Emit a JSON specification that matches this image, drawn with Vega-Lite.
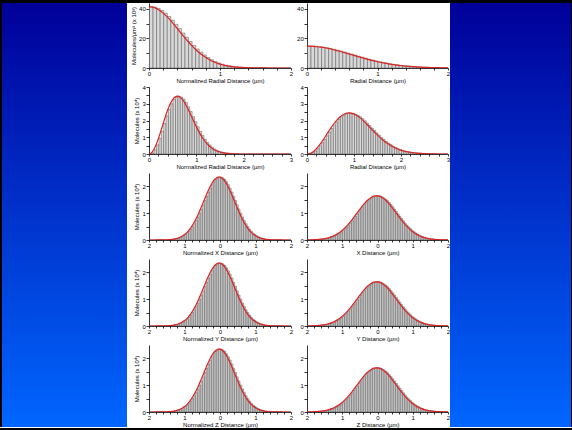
{
 "$schema": "https://vega.github.io/schema/vega-lite/v6.json",
 "background": "white",
 "padding": 0,
 "spacing": 0,
 "config": {
  "view": {"stroke": null},
  "font": "Liberation Sans",
  "axis": {"domainColor": "#000", "tickColor": "#000", "labelColor": "#000", "titleColor": "#000", "labelFontSize": 6, "titleFontSize": 6, "titleFontWeight": "normal", "grid": false, "domainWidth": 0.8, "tickWidth": 0.8, "labelFlush": false, "labelOverlap": false, "labelBound": false},
  "axisX": {"tickSize": 2, "labelPadding": 0, "titlePadding": 1.5},
  "axisY": {"tickSize": 3, "labelPadding": 0.7, "titlePadding": 2}
 },
 "datasets": {
  "d1": [
   {"x":0,"l":41.5,"r":14.8},{"x":0.05,"l":41.21,"r":14.75},{"x":0.1,"l":40.37,"r":14.62},{"x":0.15,"l":38.99,"r":14.39},
   {"x":0.2,"l":37.15,"r":14.08},{"x":0.25,"l":34.9,"r":13.69},{"x":0.3,"l":32.35,"r":13.23},{"x":0.35,"l":29.56,"r":12.7},
   {"x":0.4,"l":26.64,"r":12.12},{"x":0.45,"l":23.68,"r":11.49},{"x":0.5,"l":20.76,"r":10.83},{"x":0.55,"l":17.95,"r":10.14},
   {"x":0.6,"l":15.31,"r":9.44},{"x":0.65,"l":12.87,"r":8.73},{"x":0.7,"l":10.68,"r":8.02},{"x":0.75,"l":8.74,"r":7.33},
   {"x":0.8,"l":7.05,"r":6.65},{"x":0.85,"l":5.61,"r":6.0},{"x":0.9,"l":4.4,"r":5.38},{"x":0.95,"l":3.41,"r":4.79},
   {"x":1,"l":2.6,"r":4.24},{"x":1.05,"l":1.96,"r":3.73},{"x":1.1,"l":1.45,"r":3.26},{"x":1.15,"l":1.06,"r":2.83},
   {"x":1.2,"l":0.77,"r":2.45},{"x":1.25,"l":0.55,"r":2.1},{"x":1.3,"l":0.38,"r":1.79},{"x":1.35,"l":0.27,"r":1.52},
   {"x":1.4,"l":0.18,"r":1.28},{"x":1.45,"l":0.12,"r":1.07},{"x":1.5,"l":0.08,"r":0.89},{"x":1.55,"l":0.05,"r":0.73},
   {"x":1.6,"l":0.03,"r":0.6},{"x":1.65,"l":0.02,"r":0.49},{"x":1.7,"l":0.01,"r":0.4},{"x":1.75,"l":0.01,"r":0.32},
   {"x":1.8,"l":0,"r":0.26},{"x":1.85,"l":0,"r":0.21},{"x":1.9,"l":0,"r":0.16},{"x":1.95,"l":0,"r":0.13},{"x":2,"l":0,"r":0.1}
  ],
  "d2": [
   {"x":0,"l":0,"r":0},{"x":0.05,"l":0.06,"r":0.02},{"x":0.1,"l":0.25,"r":0.08},{"x":0.15,"l":0.55,"r":0.18},
   {"x":0.2,"l":0.93,"r":0.32},{"x":0.25,"l":1.37,"r":0.48},{"x":0.3,"l":1.82,"r":0.67},{"x":0.35,"l":2.27,"r":0.87},
   {"x":0.4,"l":2.67,"r":1.09},{"x":0.45,"l":3.0,"r":1.31},{"x":0.5,"l":3.25,"r":1.52},{"x":0.55,"l":3.4,"r":1.73},
   {"x":0.6,"l":3.45,"r":1.91},{"x":0.65,"l":3.4,"r":2.07},{"x":0.7,"l":3.28,"r":2.21},{"x":0.75,"l":3.08,"r":2.32},
   {"x":0.8,"l":2.82,"r":2.39},{"x":0.85,"l":2.54,"r":2.44},{"x":0.9,"l":2.23,"r":2.45},{"x":0.95,"l":1.93,"r":2.43},
   {"x":1,"l":1.63,"r":2.38},{"x":1.05,"l":1.35,"r":2.31},{"x":1.1,"l":1.1,"r":2.22},{"x":1.15,"l":0.88,"r":2.11},
   {"x":1.2,"l":0.69,"r":1.98},{"x":1.25,"l":0.54,"r":1.84},{"x":1.3,"l":0.41,"r":1.7},{"x":1.35,"l":0.3,"r":1.55},
   {"x":1.4,"l":0.22,"r":1.41},{"x":1.45,"l":0.16,"r":1.26},{"x":1.5,"l":0.12,"r":1.13},{"x":1.55,"l":0.08,"r":0.99},
   {"x":1.6,"l":0.06,"r":0.87},{"x":1.65,"l":0.04,"r":0.75},{"x":1.7,"l":0.03,"r":0.65},{"x":1.75,"l":0.02,"r":0.56},
   {"x":1.8,"l":0.01,"r":0.47},{"x":1.85,"l":0.01,"r":0.4},{"x":1.9,"l":0,"r":0.33},{"x":1.95,"l":0,"r":0.27},
   {"x":2,"l":0,"r":0.22},{"x":2.05,"l":0,"r":0.18},{"x":2.1,"l":0,"r":0.15},{"x":2.15,"l":0,"r":0.12},
   {"x":2.2,"l":0,"r":0.1},{"x":2.25,"l":0,"r":0.08},{"x":2.3,"l":0,"r":0.06},{"x":2.35,"l":0,"r":0.05},
   {"x":2.4,"l":0,"r":0.04},{"x":2.45,"l":0,"r":0.03},{"x":2.5,"l":0,"r":0.02},{"x":2.55,"l":0,"r":0.02},
   {"x":2.6,"l":0,"r":0.01},{"x":2.65,"l":0,"r":0.01},{"x":2.7,"l":0,"r":0.01},{"x":2.75,"l":0,"r":0},
   {"x":2.8,"l":0,"r":0},{"x":2.85,"l":0,"r":0},{"x":2.9,"l":0,"r":0},{"x":2.95,"l":0,"r":0},{"x":3,"l":0,"r":0}
  ],
  "d3": [
   {"x":-2,"l":0,"r":0.003},{"x":-1.95,"l":0,"r":0.004},{"x":-1.9,"l":0,"r":0.006},{"x":-1.85,"l":0,"r":0.008},
   {"x":-1.8,"l":0.001,"r":0.011},{"x":-1.75,"l":0.001,"r":0.014},{"x":-1.7,"l":0.002,"r":0.019},{"x":-1.65,"l":0.003,"r":0.024},
   {"x":-1.6,"l":0.004,"r":0.032},{"x":-1.55,"l":0.006,"r":0.04},{"x":-1.5,"l":0.009,"r":0.051},{"x":-1.45,"l":0.012,"r":0.065},
   {"x":-1.4,"l":0.018,"r":0.081},{"x":-1.35,"l":0.025,"r":0.1},{"x":-1.3,"l":0.035,"r":0.124},{"x":-1.25,"l":0.049,"r":0.151},
   {"x":-1.2,"l":0.066,"r":0.183},{"x":-1.15,"l":0.089,"r":0.219},{"x":-1.1,"l":0.119,"r":0.261},{"x":-1.05,"l":0.156,"r":0.309},
   {"x":-1,"l":0.202,"r":0.362},{"x":-0.95,"l":0.258,"r":0.422},{"x":-0.9,"l":0.325,"r":0.487},{"x":-0.85,"l":0.405,"r":0.557},
   {"x":-0.8,"l":0.498,"r":0.633},{"x":-0.75,"l":0.605,"r":0.714},{"x":-0.7,"l":0.724,"r":0.798},{"x":-0.65,"l":0.857,"r":0.885},
   {"x":-0.6,"l":1.001,"r":0.974},{"x":-0.55,"l":1.153,"r":1.063},{"x":-0.5,"l":1.312,"r":1.151},{"x":-0.45,"l":1.474,"r":1.237},
   {"x":-0.4,"l":1.634,"r":1.319},{"x":-0.35,"l":1.789,"r":1.394},{"x":-0.3,"l":1.933,"r":1.463},{"x":-0.25,"l":2.062,"r":1.522},
   {"x":-0.2,"l":2.171,"r":1.571},{"x":-0.15,"l":2.257,"r":1.609},{"x":-0.1,"l":2.316,"r":1.635},{"x":-0.05,"l":2.346,"r":1.648},
   {"x":0,"l":2.346,"r":1.648},{"x":0.05,"l":2.316,"r":1.635},{"x":0.1,"l":2.257,"r":1.609},{"x":0.15,"l":2.171,"r":1.571},
   {"x":0.2,"l":2.062,"r":1.522},{"x":0.25,"l":1.933,"r":1.463},{"x":0.3,"l":1.789,"r":1.394},{"x":0.35,"l":1.634,"r":1.319},
   {"x":0.4,"l":1.474,"r":1.237},{"x":0.45,"l":1.312,"r":1.151},{"x":0.5,"l":1.153,"r":1.063},{"x":0.55,"l":1.001,"r":0.974},
   {"x":0.6,"l":0.857,"r":0.885},{"x":0.65,"l":0.724,"r":0.798},{"x":0.7,"l":0.605,"r":0.714},{"x":0.75,"l":0.498,"r":0.633},
   {"x":0.8,"l":0.405,"r":0.557},{"x":0.85,"l":0.325,"r":0.487},{"x":0.9,"l":0.258,"r":0.422},{"x":0.95,"l":0.202,"r":0.362},
   {"x":1,"l":0.156,"r":0.309},{"x":1.05,"l":0.119,"r":0.261},{"x":1.1,"l":0.089,"r":0.219},{"x":1.15,"l":0.066,"r":0.183},
   {"x":1.2,"l":0.049,"r":0.151},{"x":1.25,"l":0.035,"r":0.124},{"x":1.3,"l":0.025,"r":0.1},{"x":1.35,"l":0.018,"r":0.081},
   {"x":1.4,"l":0.012,"r":0.065},{"x":1.45,"l":0.009,"r":0.051},{"x":1.5,"l":0.006,"r":0.04},{"x":1.55,"l":0.004,"r":0.032},
   {"x":1.6,"l":0.003,"r":0.024},{"x":1.65,"l":0.002,"r":0.019},{"x":1.7,"l":0.001,"r":0.014},{"x":1.75,"l":0.001,"r":0.011},
   {"x":1.8,"l":0,"r":0.008},{"x":1.85,"l":0,"r":0.006},{"x":1.9,"l":0,"r":0.004},{"x":1.95,"l":0,"r":0.003},{"x":2,"l":0,"r":0.002}
  ]
 },
 "vconcat": [
  {"width": 572, "height": 3, "data": {"values": [{}]}, "mark": {"type": "rect", "color": "black"}, "encoding": {}},
  {"spacing": 0, "hconcat": [
   {"width": 2, "height": 424, "data": {"values": [{}]}, "mark": {"type": "rect", "color": "black"}, "encoding": {}},
   {"width": 125, "height": 424, "data": {"values": [{}]}, "mark": {"type": "rect", "color": {"gradient": "linear", "x1": 0, "y1": 0, "x2": 0, "y2": 1, "stops": [{"offset": 0, "color": "#000099"}, {"offset": 1, "color": "#0066ff"}]}}, "encoding": {}},
   {"width": 3, "height": 424, "data": {"values": [{}]}, "mark": {"type": "rect", "color": "white"}, "encoding": {}},
   {"columns": 2, "spacing": {"row": 19, "column": 16}, "bounds": "flush", "align": "each", "concat": [
    {"width": 142, "height": 65, "data": {"name": "d1"},
     "encoding": {"y": {"field": "l", "type": "quantitative", "scale": {"domain": [0, 44], "nice": false}, "axis": {"title": "Molecules/µm³ (x 10³)", "values": [0,10,20,30,40], "labelExpr": "datum.value % 20 == 0 ? format(datum.value, 'd') : ''", "labelOverlap": false}}},
     "layer": [
      {"mark": {"type": "bar", "fill": "#d9d9d9", "stroke": "#555555", "strokeWidth": 0.5, "binSpacing": 0, "clip": true},
       "encoding": {"x": {"field": "x", "type": "quantitative", "bin": {"binned": true, "step": 0.05}, "scale": {"domain": [0, 2], "nice": false, "zero": false},
             "axis": {"title": "Normalized Radial Distance (µm)", "labelOverlap": false, "values": [0,0.2,0.4,0.6,0.8,1,1.2,1.4,1.6,1.8,2], "labelExpr": "abs(datum.value - round(datum.value)) < 0.01 ? format(abs(datum.value), 'd') : ''"}}}},
      {"mark": {"type": "line", "stroke": "#dd2222", "strokeWidth": 1.2, "interpolate": "monotone", "clip": true},
       "encoding": {"x": {"field": "x", "type": "quantitative"}}}
     ]},
    {"width": 141, "height": 65, "data": {"name": "d1"},
     "encoding": {"y": {"field": "r", "type": "quantitative", "scale": {"domain": [0, 44], "nice": false}, "axis": {"title": null, "values": [0,10,20,30,40], "labelExpr": "datum.value % 20 == 0 ? format(datum.value, 'd') : ''", "labelOverlap": false}}},
     "layer": [
      {"mark": {"type": "bar", "fill": "#d9d9d9", "stroke": "#555555", "strokeWidth": 0.5, "binSpacing": 0, "clip": true},
       "encoding": {"x": {"field": "x", "type": "quantitative", "bin": {"binned": true, "step": 0.05}, "scale": {"domain": [0, 2], "nice": false, "zero": false},
             "axis": {"title": "Radial Distance (µm)", "labelOverlap": false, "values": [0,0.2,0.4,0.6,0.8,1,1.2,1.4,1.6,1.8,2], "labelExpr": "abs(datum.value - round(datum.value)) < 0.01 ? format(abs(datum.value), 'd') : ''"}}}},
      {"mark": {"type": "line", "stroke": "#dd2222", "strokeWidth": 1.2, "interpolate": "monotone", "clip": true},
       "encoding": {"x": {"field": "x", "type": "quantitative"}}}
     ]},
    {"width": 142, "height": 67, "data": {"name": "d2"},
     "encoding": {"y": {"field": "l", "type": "quantitative", "scale": {"domain": [0, 4], "nice": false}, "axis": {"title": "Molecules (x 10⁴)", "values": [0,0.5,1,1.5,2,2.5,3,3.5,4], "labelExpr": "abs(datum.value - round(datum.value)) < 0.01 ? format(datum.value, 'd') : ''", "labelOverlap": false}}},
     "layer": [
      {"mark": {"type": "bar", "fill": "#d9d9d9", "stroke": "#555555", "strokeWidth": 0.5, "binSpacing": 0, "clip": true},
       "encoding": {"x": {"field": "x", "type": "quantitative", "bin": {"binned": true, "step": 0.05}, "scale": {"domain": [0, 3], "nice": false, "zero": false},
             "axis": {"title": "Normalized Radial Distance (µm)", "labelOverlap": false, "values": [0,0.2,0.4,0.6,0.8,1,1.2,1.4,1.6,1.8,2,2.2,2.4,2.6,2.8,3], "labelExpr": "abs(datum.value - round(datum.value)) < 0.01 ? format(abs(datum.value), 'd') : ''"}}}},
      {"mark": {"type": "line", "stroke": "#dd2222", "strokeWidth": 1.2, "interpolate": "monotone", "clip": true},
       "encoding": {"x": {"field": "x", "type": "quantitative"}}}
     ]},
    {"width": 141, "height": 67, "data": {"name": "d2"},
     "encoding": {"y": {"field": "r", "type": "quantitative", "scale": {"domain": [0, 4], "nice": false}, "axis": {"title": null, "values": [0,0.5,1,1.5,2,2.5,3,3.5,4], "labelExpr": "abs(datum.value - round(datum.value)) < 0.01 ? format(datum.value, 'd') : ''", "labelOverlap": false}}},
     "layer": [
      {"mark": {"type": "bar", "fill": "#d9d9d9", "stroke": "#555555", "strokeWidth": 0.5, "binSpacing": 0, "clip": true},
       "encoding": {"x": {"field": "x", "type": "quantitative", "bin": {"binned": true, "step": 0.05}, "scale": {"domain": [0, 3], "nice": false, "zero": false},
             "axis": {"title": "Radial Distance (µm)", "labelOverlap": false, "values": [0,0.2,0.4,0.6,0.8,1,1.2,1.4,1.6,1.8,2,2.2,2.4,2.6,2.8,3], "labelExpr": "abs(datum.value - round(datum.value)) < 0.01 ? format(abs(datum.value), 'd') : ''"}}}},
      {"mark": {"type": "line", "stroke": "#dd2222", "strokeWidth": 1.2, "interpolate": "monotone", "clip": true},
       "encoding": {"x": {"field": "x", "type": "quantitative"}}}
     ]},
    {"width": 142, "height": 67, "data": {"name": "d3"},
     "encoding": {"y": {"field": "l", "type": "quantitative", "scale": {"domain": [0, 2.5], "nice": false}, "axis": {"title": "Molecules (x 10⁴)", "values": [0,0.5,1,1.5,2], "labelExpr": "abs(datum.value - round(datum.value)) < 0.01 ? format(datum.value, 'd') : ''", "labelOverlap": false}}},
     "layer": [
      {"mark": {"type": "bar", "fill": "#d9d9d9", "stroke": "#555555", "strokeWidth": 0.5, "binSpacing": 0, "clip": true},
       "encoding": {"x": {"field": "x", "type": "quantitative", "bin": {"binned": true, "step": 0.05}, "scale": {"domain": [-2, 2], "nice": false, "zero": false},
             "axis": {"title": "Normalized X Distance (µm)", "labelOverlap": false, "values": [-2,-1.8,-1.6,-1.4,-1.2,-1,-0.8,-0.6,-0.4,-0.2,0,0.2,0.4,0.6,0.8,1,1.2,1.4,1.6,1.8,2], "labelExpr": "abs(datum.value - round(datum.value)) < 0.01 ? format(abs(datum.value), 'd') : ''"}}}},
      {"mark": {"type": "line", "stroke": "#dd2222", "strokeWidth": 1.2, "interpolate": "monotone", "clip": true},
       "encoding": {"x": {"field": "x", "type": "quantitative"}}}
     ]},
    {"width": 141, "height": 67, "data": {"name": "d3"},
     "encoding": {"y": {"field": "r", "type": "quantitative", "scale": {"domain": [0, 2.5], "nice": false}, "axis": {"title": null, "values": [0,0.5,1,1.5,2], "labelExpr": "abs(datum.value - round(datum.value)) < 0.01 ? format(datum.value, 'd') : ''", "labelOverlap": false}}},
     "layer": [
      {"mark": {"type": "bar", "fill": "#d9d9d9", "stroke": "#555555", "strokeWidth": 0.5, "binSpacing": 0, "clip": true},
       "encoding": {"x": {"field": "x", "type": "quantitative", "bin": {"binned": true, "step": 0.05}, "scale": {"domain": [-2, 2], "nice": false, "zero": false},
             "axis": {"title": "X Distance (µm)", "labelOverlap": false, "values": [-2,-1.8,-1.6,-1.4,-1.2,-1,-0.8,-0.6,-0.4,-0.2,0,0.2,0.4,0.6,0.8,1,1.2,1.4,1.6,1.8,2], "labelExpr": "abs(datum.value - round(datum.value)) < 0.01 ? format(abs(datum.value), 'd') : ''"}}}},
      {"mark": {"type": "line", "stroke": "#dd2222", "strokeWidth": 1.2, "interpolate": "monotone", "clip": true},
       "encoding": {"x": {"field": "x", "type": "quantitative"}}}
     ]},
    {"width": 142, "height": 67, "data": {"name": "d3"},
     "encoding": {"y": {"field": "l", "type": "quantitative", "scale": {"domain": [0, 2.5], "nice": false}, "axis": {"title": "Molecules (x 10⁴)", "values": [0,0.5,1,1.5,2], "labelExpr": "abs(datum.value - round(datum.value)) < 0.01 ? format(datum.value, 'd') : ''", "labelOverlap": false}}},
     "layer": [
      {"mark": {"type": "bar", "fill": "#d9d9d9", "stroke": "#555555", "strokeWidth": 0.5, "binSpacing": 0, "clip": true},
       "encoding": {"x": {"field": "x", "type": "quantitative", "bin": {"binned": true, "step": 0.05}, "scale": {"domain": [-2, 2], "nice": false, "zero": false},
             "axis": {"title": "Normalized Y Distance (µm)", "labelOverlap": false, "values": [-2,-1.8,-1.6,-1.4,-1.2,-1,-0.8,-0.6,-0.4,-0.2,0,0.2,0.4,0.6,0.8,1,1.2,1.4,1.6,1.8,2], "labelExpr": "abs(datum.value - round(datum.value)) < 0.01 ? format(abs(datum.value), 'd') : ''"}}}},
      {"mark": {"type": "line", "stroke": "#dd2222", "strokeWidth": 1.2, "interpolate": "monotone", "clip": true},
       "encoding": {"x": {"field": "x", "type": "quantitative"}}}
     ]},
    {"width": 141, "height": 67, "data": {"name": "d3"},
     "encoding": {"y": {"field": "r", "type": "quantitative", "scale": {"domain": [0, 2.5], "nice": false}, "axis": {"title": null, "values": [0,0.5,1,1.5,2], "labelExpr": "abs(datum.value - round(datum.value)) < 0.01 ? format(datum.value, 'd') : ''", "labelOverlap": false}}},
     "layer": [
      {"mark": {"type": "bar", "fill": "#d9d9d9", "stroke": "#555555", "strokeWidth": 0.5, "binSpacing": 0, "clip": true},
       "encoding": {"x": {"field": "x", "type": "quantitative", "bin": {"binned": true, "step": 0.05}, "scale": {"domain": [-2, 2], "nice": false, "zero": false},
             "axis": {"title": "Y Distance (µm)", "labelOverlap": false, "values": [-2,-1.8,-1.6,-1.4,-1.2,-1,-0.8,-0.6,-0.4,-0.2,0,0.2,0.4,0.6,0.8,1,1.2,1.4,1.6,1.8,2], "labelExpr": "abs(datum.value - round(datum.value)) < 0.01 ? format(abs(datum.value), 'd') : ''"}}}},
      {"mark": {"type": "line", "stroke": "#dd2222", "strokeWidth": 1.2, "interpolate": "monotone", "clip": true},
       "encoding": {"x": {"field": "x", "type": "quantitative"}}}
     ]},
    {"width": 142, "height": 67, "data": {"name": "d3"},
     "encoding": {"y": {"field": "l", "type": "quantitative", "scale": {"domain": [0, 2.5], "nice": false}, "axis": {"title": "Molecules (x 10⁴)", "values": [0,0.5,1,1.5,2], "labelExpr": "abs(datum.value - round(datum.value)) < 0.01 ? format(datum.value, 'd') : ''", "labelOverlap": false}}},
     "layer": [
      {"mark": {"type": "bar", "fill": "#d9d9d9", "stroke": "#555555", "strokeWidth": 0.5, "binSpacing": 0, "clip": true},
       "encoding": {"x": {"field": "x", "type": "quantitative", "bin": {"binned": true, "step": 0.05}, "scale": {"domain": [-2, 2], "nice": false, "zero": false},
             "axis": {"title": "Normalized Z Distance (µm)", "labelOverlap": false, "values": [-2,-1.8,-1.6,-1.4,-1.2,-1,-0.8,-0.6,-0.4,-0.2,0,0.2,0.4,0.6,0.8,1,1.2,1.4,1.6,1.8,2], "labelExpr": "abs(datum.value - round(datum.value)) < 0.01 ? format(abs(datum.value), 'd') : ''"}}}},
      {"mark": {"type": "line", "stroke": "#dd2222", "strokeWidth": 1.2, "interpolate": "monotone", "clip": true},
       "encoding": {"x": {"field": "x", "type": "quantitative"}}}
     ]},
    {"width": 141, "height": 67, "data": {"name": "d3"},
     "encoding": {"y": {"field": "r", "type": "quantitative", "scale": {"domain": [0, 2.5], "nice": false}, "axis": {"title": null, "values": [0,0.5,1,1.5,2], "labelExpr": "abs(datum.value - round(datum.value)) < 0.01 ? format(datum.value, 'd') : ''", "labelOverlap": false}}},
     "layer": [
      {"mark": {"type": "bar", "fill": "#d9d9d9", "stroke": "#555555", "strokeWidth": 0.5, "binSpacing": 0, "clip": true},
       "encoding": {"x": {"field": "x", "type": "quantitative", "bin": {"binned": true, "step": 0.05}, "scale": {"domain": [-2, 2], "nice": false, "zero": false},
             "axis": {"title": "Z Distance (µm)", "labelOverlap": false, "values": [-2,-1.8,-1.6,-1.4,-1.2,-1,-0.8,-0.6,-0.4,-0.2,0,0.2,0.4,0.6,0.8,1,1.2,1.4,1.6,1.8,2], "labelExpr": "abs(datum.value - round(datum.value)) < 0.01 ? format(abs(datum.value), 'd') : ''"}}}},
      {"mark": {"type": "line", "stroke": "#dd2222", "strokeWidth": 1.2, "interpolate": "monotone", "clip": true},
       "encoding": {"x": {"field": "x", "type": "quantitative"}}}
     ]}
   ]},
   {"width": 121, "height": 424, "data": {"values": [{}]}, "mark": {"type": "rect", "color": {"gradient": "linear", "x1": 0, "y1": 0, "x2": 0, "y2": 1, "stops": [{"offset": 0, "color": "#000099"}, {"offset": 1, "color": "#0066ff"}]}}, "encoding": {}},
   {"width": 2, "height": 424, "data": {"values": [{}]}, "mark": {"type": "rect", "color": "black"}, "encoding": {}}
  ]},
  {"width": 572, "height": 3, "data": {"values": [{}]}, "mark": {"type": "rect", "color": "black"}, "encoding": {}}
 ]
}
